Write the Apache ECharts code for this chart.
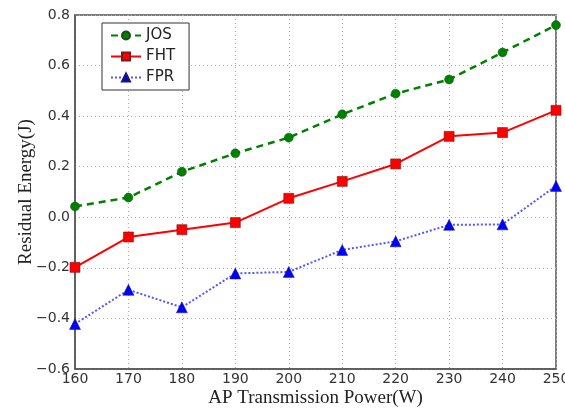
<!DOCTYPE html>
<html>
<head>
    <meta charset="utf-8">
    <title>Residual Energy</title>
    <script src="https://cdn.jsdelivr.net/npm/echarts@6/dist/echarts.min.js"></script>
    <style type="text/css">
        html, body { margin: 0; padding: 0; background: #fff; }
        #main { width: 565px; height: 412px; }
    </style>
</head>
<body>
<div id="main"></div>
<script type="text/javascript">
    // AP transmission power (W)
    var power = [160, 170, 180, 190, 200, 210, 220, 230, 240, 250];
    // residual energy (J)
    var jos = [0.043, 0.078, 0.18, 0.253, 0.315, 0.407, 0.489, 0.545, 0.652, 0.76];
    var fht = [-0.198, -0.078, -0.049, -0.021, 0.075, 0.142, 0.211, 0.32, 0.335, 0.423];
    var fpr = [-0.422, -0.287, -0.356, -0.222, -0.216, -0.129, -0.095, -0.03, -0.028, 0.124];

    function pairs(ys) {
        return power.map(function (x, i) { return [x, ys[i]]; });
    }

    var gridLine = {show: true, lineStyle: {color: '#b0b0b0', type: [1, 3], width: 1}};
    var frame = {show: true, onZero: false, lineStyle: {color: '#555', width: 1.5}};

    var chart = echarts.init(document.getElementById('main'));
    chart.setOption({
        animation: false,
        grid: {
            left: 75, right: 9, top: 15, bottom: 43, outerBoundsMode: 'none',
            show: true, borderColor: '#555', borderWidth: 1.5
        },
        legend: {
            left: 102, top: 23, orient: 'vertical',
            itemWidth: 30, itemHeight: 10, itemGap: 6,
            padding: [5, 14, 5, 8],
            borderColor: '#333', borderWidth: 1, backgroundColor: '#fff',
            textStyle: {fontFamily: 'DejaVu Sans', fontSize: 15, color: '#222'},
            data: ['JOS', 'FHT', 'FPR']
        },
        xAxis: {
            type: 'value', min: 160, max: 250, interval: 10,
            axisLine: frame, axisTick: {show: false}, splitLine: gridLine,
            axisLabel: {fontFamily: 'DejaVu Sans', fontSize: 14, color: '#333', margin: 3},
            name: 'AP Transmission Power(W)', nameLocation: 'middle', nameGap: 20,
            nameMoveOverlap: false,
            nameTextStyle: {fontFamily: 'Liberation Serif', fontSize: 19, color: '#222'}
        },
        yAxis: {
            type: 'value', min: -0.6, max: 0.8, interval: 0.2,
            axisLine: frame, axisTick: {show: false}, splitLine: gridLine,
            axisLabel: {
                fontFamily: 'DejaVu Sans', fontSize: 14, color: '#333', margin: 5,
                formatter: function (v) { return v.toFixed(1).replace('-', '\u2212'); }
            },
            name: 'Residual Energy(J)', nameLocation: 'middle', nameGap: 39,
            nameMoveOverlap: false,
            nameTextStyle: {fontFamily: 'Liberation Serif', fontSize: 19, color: '#222'}
        },
        series: [
            {
                name: 'JOS', type: 'line', data: pairs(jos),
                symbol: 'circle', symbolSize: 9,
                itemStyle: {color: '#008000', borderColor: '#1a4d1a', borderWidth: 0.5},
                lineStyle: {color: '#008000', width: 2.5, type: [7, 5]}
            },
            {
                name: 'FHT', type: 'line', data: pairs(fht),
                symbol: 'rect', symbolSize: 10,
                itemStyle: {color: '#ff0000', borderColor: '#7a1a1a', borderWidth: 0.6},
                lineStyle: {color: '#ff0000', width: 2}
            },
            {
                name: 'FPR', type: 'line', data: pairs(fpr),
                symbol: 'triangle', symbolSize: 11,
                itemStyle: {color: '#0000ff', borderColor: '#1a1a66', borderWidth: 0.5},
                lineStyle: {color: '#5555ff', width: 2, type: [2, 2]}
            }
        ]
    });
</script>
</body>
</html>
